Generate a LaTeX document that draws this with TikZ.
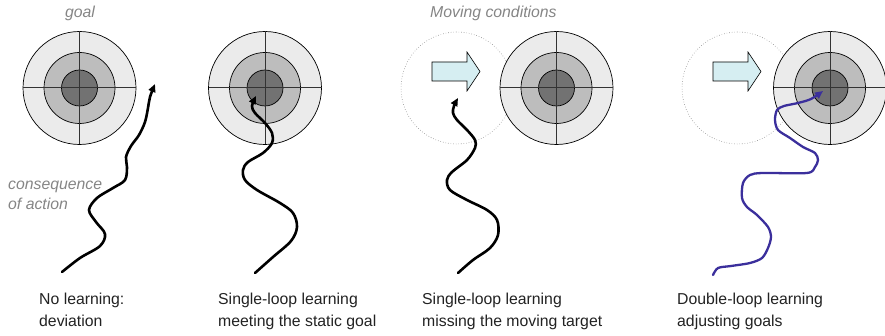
\documentclass[tikz,border=0pt]{standalone}
\usepackage{fontspec}
\setmainfont{Liberation Sans}
\usetikzlibrary{arrows.meta}

\definecolor{ringA}{HTML}{EBEBEB}
\definecolor{ringB}{HTML}{BDBDBD}
\definecolor{ringC}{HTML}{727272}
\definecolor{pathblue}{HTML}{3B2F9C}
\definecolor{shiftcyan}{HTML}{D6EEF2}
\definecolor{notegray}{HTML}{858585}
\definecolor{captext}{HTML}{222222}

\tikzset{
  ring/.style={draw=black, line width=0.7pt},
  cross/.style={draw=black!80, line width=1pt},
  ghost/.style={draw=black!45, line width=0.6pt, dotted},
  caption/.style={inner sep=0pt, anchor=base west, text=captext,
    font=\fontsize{15.8}{19}\selectfont},
  note/.style={inner sep=0pt, text=notegray,
    font=\fontsize{15.8}{19}\selectfont\itshape},
  trail/.style={line width=2.6pt, line cap=round, line join=round,
    -{Triangle[length=8pt,width=7pt]}},
  target/.pic={
    \filldraw[ring, fill=ringA] (0,0) circle (56.5pt);
    \filldraw[ring, fill=ringB] (0,0) circle (35.5pt);
    \filldraw[ring, fill=ringC] (0,0) circle (18pt);
    \draw[cross] (-56.5pt,0) -- (56.5pt,0);
    \draw[cross] (0,-56.5pt) -- (0,56.5pt);
  },
  shiftarrow/.pic={
    \filldraw[draw=black, line width=0.6pt, fill=shiftcyan]
      (-25pt,7pt) -- (10pt,7pt) -- (10pt,-3pt) -- (23pt,16.5pt)
      -- (10pt,36pt) -- (10pt,26pt) -- (-25pt,26pt) -- cycle;
  }
}

\begin{document}
\begin{tikzpicture}[x=1pt,y=-1pt]
\useasboundingbox (0,0) rectangle (885,336);

% ---- panel 1: no learning ----
\pic at (79.5,88) {target};
\node[note, anchor=base] (goal) at (80,18) {goal};
\node[note, anchor=base west] (cons1) at (8,190) {consequence};
\node[note, anchor=base west] (cons2) at (8,210) {of action};
\coordinate (s1) at (62,272);
\coordinate (e1) at (155,84);
\draw[trail] plot[smooth, tension=0.55] coordinates {
  (s1) (80,258) (100,246) (105,234) (96,222) (89,210) (97,198)
  (113,188) (125,180) (127,167) (126,157) (131,146) (139,135)
  (145,122) (148,108) (150,97) (e1)};
\node[caption] (cap1a) at (39,305) {No learning:};
\node[caption] (cap1b) at (39,326) {deviation};

% ---- panel 2: single-loop, static goal ----
\pic at (265,88) {target};
\coordinate (s2) at (255,273);
\coordinate (e2) at (256,96);
\draw[trail] plot[smooth, tension=0.55] coordinates {
  (s2) (273,257) (291,241) (297,227) (293,213) (280,203) (257,190)
  (245,180) (243,170) (248,162) (263,153) (272,143) (272,133)
  (265,123) (255,113) (252,106) (e2)};
\node[caption] (cap2a) at (218,305) {Single-loop learning};
\node[caption] (cap2b) at (218,326) {meeting the static goal};

% ---- panel 3: single-loop, moving target ----
\draw[ghost] (457,88) circle (56pt);
\pic at (556.5,88) {target};
\pic at (457,88) {shiftarrow};
\node[note, anchor=base west] (moving) at (430,18) {Moving conditions};
\coordinate (s3) at (458,273);
\coordinate (e3) at (458,98);
\draw[trail] plot[smooth, tension=0.55] coordinates {
  (s3) (473,260) (490,248) (498,235) (497,220) (487,210) (467,200)
  (450,190) (447,180) (452,172) (467,160) (475,148) (475,140)
  (467,130) (457,120) (453,113) (454,106) (e3)};
\node[caption] (cap3a) at (422,305) {Single-loop learning};
\node[caption] (cap3b) at (422,326) {missing the moving target};

% ---- panel 4: double-loop, adjusted goal ----
\draw[ghost] (738,88) circle (56pt);
\pic at (830,88) {target};
\pic at (738,88) {shiftarrow};
\coordinate (s4) at (713,275);
\coordinate (e4) at (823,91);
\draw[trail, color=pathblue, line width=2.3pt] plot[smooth, tension=0.5] coordinates {
  (s4) (718,268) (731,266) (750,263) (762,258) (768,248) (771,237)
  (768,227) (757,215) (747,207) (742,198) (743,183) (750,175)
  (763,173) (807,173) (815,167) (818,160) (815,153) (803,147)
  (790,138) (778,130) (775,120) (777,110) (784,106) (798,103)
  (811,99) (e4)};
\node[caption] (cap4a) at (677,305) {Double-loop learning};
\node[caption] (cap4b) at (677,326) {adjusting goals};
\end{tikzpicture}
\end{document}
